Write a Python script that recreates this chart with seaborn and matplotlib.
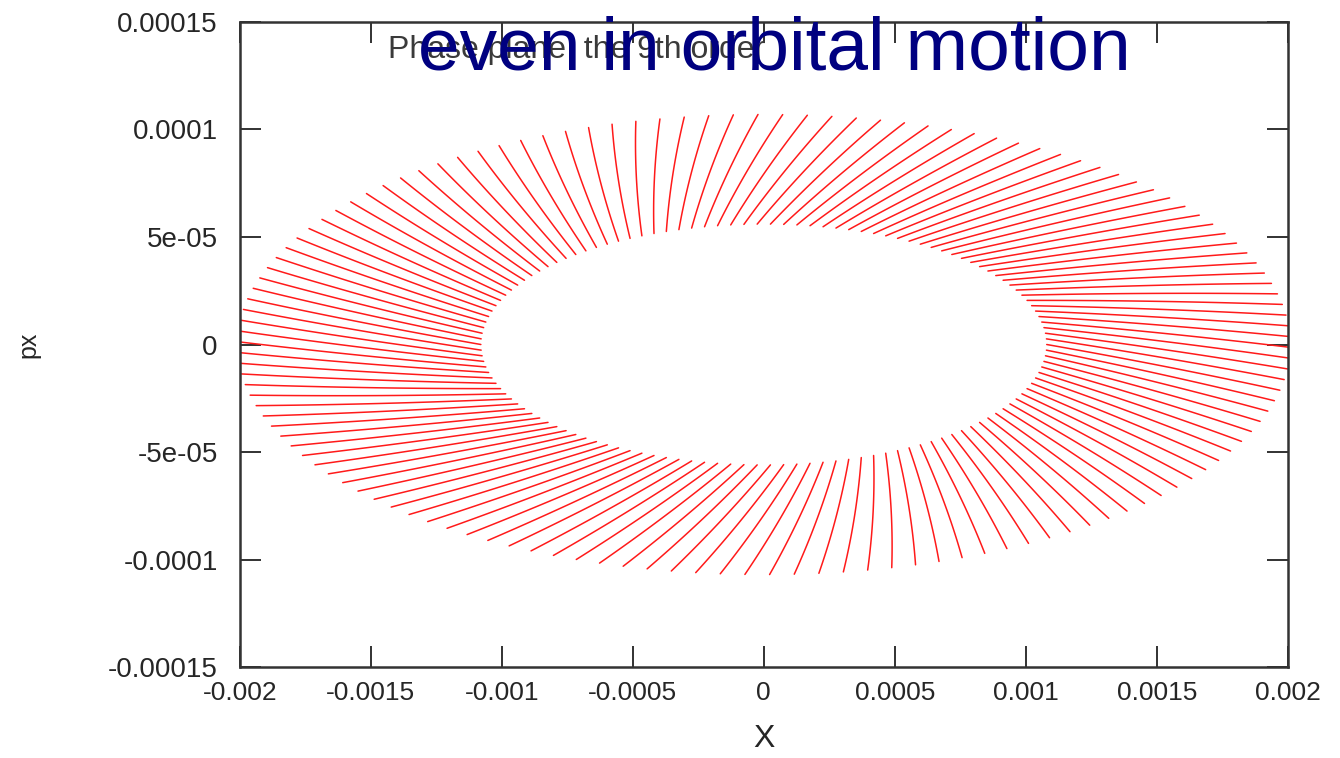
import numpy as np
import pandas as pd
import matplotlib
matplotlib.use("Agg")
import matplotlib.pyplot as plt
import seaborn as sns

# ring of trajectories in the (X, px) phase plane
n_rays = 134
inner_x, inner_px = 0.00108, 5.6e-05   # inner ellipse semi-axes
outer_x, outer_px = 0.00201, 1.07e-04  # outer ellipse semi-axes
twist = 0.20                           # phase lag of the outer end (rad)
bend = 0.2                             # how much each ray follows the arc
pts_per_ray = 40

x_ticks = [-0.002, -0.0015, -0.001, -0.0005, 0, 0.0005, 0.001, 0.0015, 0.002]
x_labels = ["-0.002", "-0.0015", "-0.001", "-0.0005", "0", "0.0005", "0.001", "0.0015", "0.002"]
y_ticks = [0.00015, 0.0001, 5e-05, 0, -5e-05, -0.0001, -0.00015]
y_labels = ["0.00015", "0.0001", "5e-05", "0", "-5e-05", "-0.0001", "-0.00015"]

rows = []
s = np.linspace(0, 1, pts_per_ray)
for k in range(n_rays):
    th = 2 * np.pi * k / n_rays
    # straight chord from inner end to the (lagged) outer end
    x0, y0 = inner_x * np.cos(th), inner_px * np.sin(th)
    x1, y1 = outer_x * np.cos(th - twist), outer_px * np.sin(th - twist)
    lx, ly = x0 + (x1 - x0) * s, y0 + (y1 - y0) * s
    # arc-like path between the same ends
    phi = th - twist * s
    ax_ = inner_x + (outer_x - inner_x) * s
    ay_ = inner_px + (outer_px - inner_px) * s
    cx, cy = ax_ * np.cos(phi), ay_ * np.sin(phi)
    xs = (1 - bend) * lx + bend * cx
    ys = (1 - bend) * ly + bend * cy
    for xi, yi in zip(xs, ys):
        rows.append((k, xi, yi))
df = pd.DataFrame(rows, columns=["ray", "x", "px"])

sns.set_style("white")
plt.rcParams["font.family"] = ["Liberation Sans", "DejaVu Sans"]

fig = plt.figure(figsize=(13.4, 7.58), dpi=100)
ax = fig.add_axes([0.179, 0.120, 0.782, 0.851])

sns.lineplot(data=df, x="x", y="px", units="ray", estimator=None, sort=False,
             color="#ff1a1a", lw=1.1, legend=False, ax=ax)

ax.set_xlim(-0.002, 0.002)
ax.set_ylim(-0.00015, 0.00015)
ax.set_xticks(x_ticks)
ax.set_xticklabels(x_labels)
ax.set_yticks(y_ticks)
ax.set_yticklabels(y_labels)
ax.tick_params(direction="in", length=15, width=1.3, color="#222222",
               top=True, right=True, bottom=True, left=True)
ax.tick_params(axis="x", pad=10, labelsize=19)
ax.tick_params(axis="y", pad=16, labelsize=20)
for sp in ax.spines.values():
    sp.set_linewidth(1.8)
    sp.set_color("#333333")

ax.set_xlabel("X", fontsize=23)
ax.xaxis.set_label_coords(0.5, -0.088)
ax.set_ylabel("px", fontsize=18)
ax.yaxis.set_label_coords(-0.19, 0.5)

fig.text(388 / 1340, 1 - 50 / 758, "Phase plane, the 9th order", ha="left", va="center",
         fontsize=23, color="#3a3a3a")
fig.text(418 / 1340, 1 - 70 / 758, "even in orbital motion", ha="left", va="baseline",
         fontsize=54, color="#000080")

fig.savefig("out.png", dpi=100)
